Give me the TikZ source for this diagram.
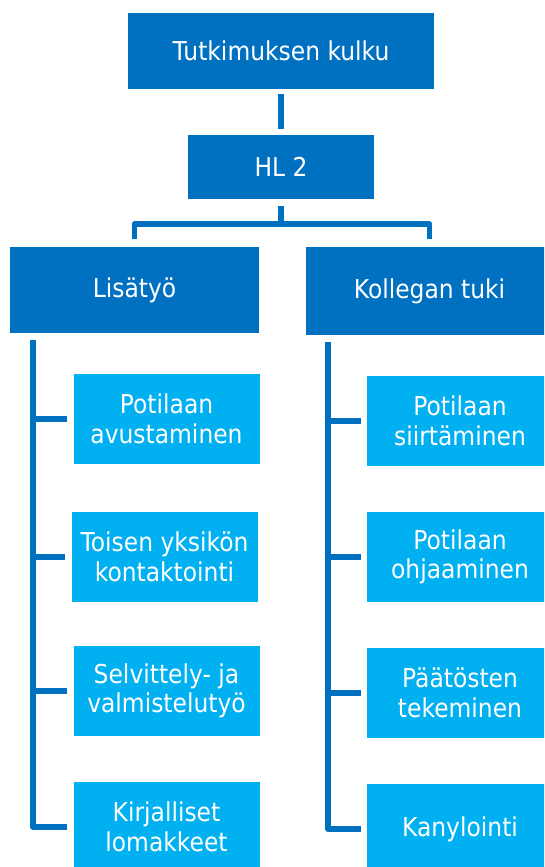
\documentclass[tikz,border=0pt]{standalone}
\usepackage{fontspec}
\setmainfont{DejaVu Sans}[FakeStretch=0.9]
\definecolor{darkbox}{RGB}{0,112,192}
\definecolor{lightbox}{RGB}{0,176,240}
\tikzset{
  box/.style={rectangle, draw=none, text=white, align=center, inner sep=2pt,
    font=\fontsize{26}{29.5}\selectfont},
  mainbox/.style={box, fill=darkbox},
  subbox/.style={box, fill=lightbox, minimum width=186, minimum height=90},
  conn/.style={draw=darkbox, line width=5.6pt, line join=round},
}
\begin{document}
\begin{tikzpicture}[x=1pt,y=-1pt]
\useasboundingbox (0,0) rectangle (544,867);
\clip (0,0) rectangle (544,867);
\fill[white] (0,0) rectangle (544,867);

% upper levels
\node[mainbox, minimum width=306, minimum height=76] (top) at (281,51) {Tutkimuksen kulku};
\node[mainbox, minimum width=186, minimum height=64] (hl) at (281,167) {HL 2};
\node[mainbox, minimum width=249, minimum height=86] (lis) at (134.5,290) {Lisätyö};
\node[mainbox, minimum width=247, minimum height=88] (kol) at (429.5,291) {Kollegan tuki};

% left column
\node[subbox] (l1) at (166.5,419) {Potilaan\\avustaminen};
\node[subbox] (l2) at (164.5,557) {Toisen yksikön\\kontaktointi};
\node[subbox] (l3) at (166.5,691) {Selvittely- ja\\valmistelutyö};
\node[subbox] (l4) at (166.5,827) {Kirjalliset\\lomakkeet};

% right column
\node[subbox] (r1) at (460,421) {Potilaan\\siirtäminen};
\node[subbox] (r2) at (460,557) {Potilaan\\ohjaaminen};
\node[subbox] (r3) at (460,693) {Päätösten\\tekeminen};
\node[subbox] (r4) at (460,829) {Kanylointi};

% top connectors
\draw[conn, shorten <=5pt, shorten >=6pt] (top.south) -- (hl.north);
\coordinate (br) at (281,224);
\draw[conn, shorten <=7pt] (hl.south) -- (br);
\draw[conn, shorten <=8pt, shorten >=8pt] (lis.north) |- (br) -| (kol.north);

% left spine
\coordinate (ls) at (33,340);
\draw[conn] (ls) |- ([xshift=-6pt]l4.west);
\foreach \n in {l1,l2,l3}
  \draw[conn, shorten >=6pt] (ls |- \n.west) -- (\n.west);

% right spine
\coordinate (rs) at (328,342);
\draw[conn] (rs) |- ([xshift=-6pt]r4.west);
\foreach \n in {r1,r2,r3}
  \draw[conn, shorten >=6pt] (rs |- \n.west) -- (\n.west);
\end{tikzpicture}
\end{document}
